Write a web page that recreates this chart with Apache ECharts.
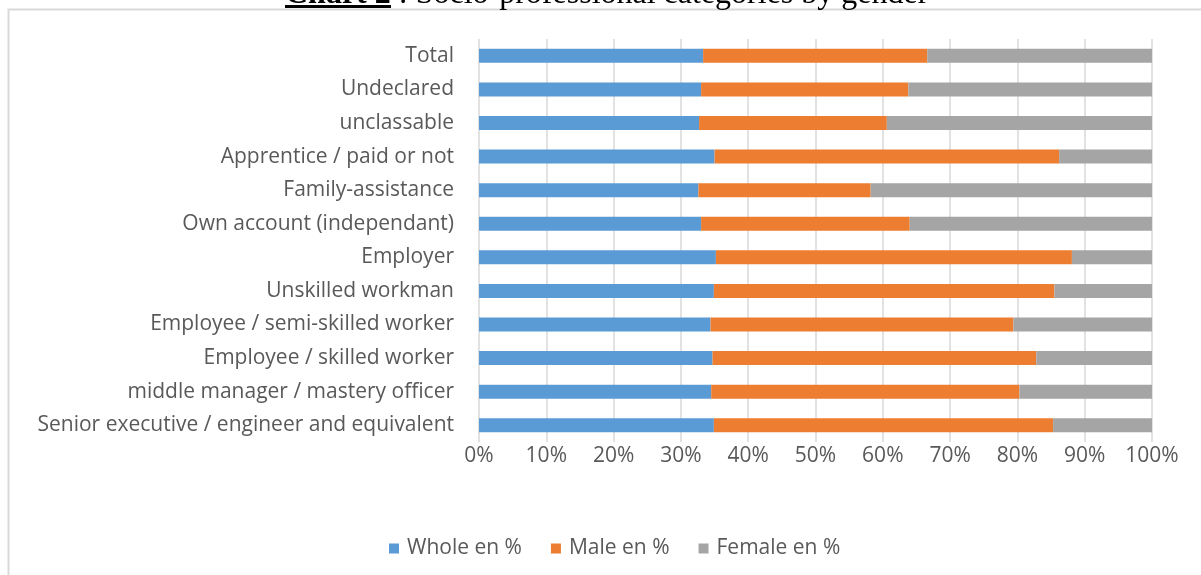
<!DOCTYPE html>
<html>
<head>
<meta charset="utf-8">
<script src="https://cdn.jsdelivr.net/npm/echarts@6/dist/echarts.min.js"></script>
<style>html,body{margin:0;padding:0;background:#fff;}#c{width:1201px;height:575px;}</style>
</head>
<body>
<div id="c"></div>
<script>
const categories = ["Total","Undeclared","unclassable","Apprentice / paid or not","Family-assistance","Own account (independant)","Employer","Unskilled workman","Employee / semi-skilled worker","Employee / skilled worker","middle manager / mastery officer","Senior executive / engineer and equivalent"];
const wholePct  = [33.3, 33.0, 32.7, 35.0, 32.6, 33.0, 35.2, 34.9, 34.4, 34.7, 34.5, 34.9];
const malePct   = [33.3, 30.8, 27.9, 51.2, 25.6, 31.0, 52.9, 50.6, 45.0, 48.1, 45.8, 50.4];
const femalePct = [33.4, 36.2, 39.4, 13.8, 41.8, 36.0, 11.9, 14.5, 20.6, 17.2, 19.7, 14.7];
const xTicks = [0,10,20,30,40,50,60,70,80,90,100];
const seriesNames = ["Whole en %","Male en %","Female en %"];

const chart = echarts.init(document.getElementById('c'), null, {renderer:'canvas'});
const font = '"Open Sans", sans-serif';
const lbl = '#595959';
const fs = 21;
const colors = ['#5b9bd5','#ed7d31','#a5a5a5'];
const vals = [wholePct, malePct, femalePct];
chart.setOption({
  animation:false,
  backgroundColor:'#fff',
  graphic:[
    {type:'rect', z:-10, shape:{x:8.5,y:9.5,width:1300,height:700}, style:{fill:'none',stroke:'#d9d9d9',lineWidth:2}},
    {type:'text', left:285, top:-21, style:{text:'{b|Chart 2} : Socio-professional categories by gender', font:'32px "Liberation Serif", serif', fill:'#000',
      rich:{b:{fontFamily:'"Liberation Serif", serif', fontWeight:'bold', fontSize:32}}}},
    {type:'rect', shape:{x:285,y:5,width:106,height:3}, style:{fill:'#000'}}
  ],
  grid:{left:479, right:49, top:39, bottom:133, containLabel:false},
  legend:{bottom:11, left:384, itemWidth:10, itemHeight:10, itemGap:29, icon:'rect',
    textStyle:{color:lbl, fontFamily:font, fontSize:fs, padding:[0,0,0,3]}, data:seriesNames},
  xAxis:{type:'value', min:0, max:100, interval:10,
    axisLabel:{formatter:v=>v+'%', color:lbl, fontFamily:font, fontSize:fs, margin:4},
    axisLine:{show:false}, axisTick:{show:false},
    splitLine:{lineStyle:{color:'#d9d9d9', width:1.5}}},
  yAxis:{type:'category', inverse:true, data:categories,
    axisLabel:{color:lbl, fontFamily:font, fontSize:fs, margin:25},
    axisLine:{show:false}, axisTick:{show:false}},
  series: seriesNames.map((n,i)=>({name:n, type:'bar', stack:'s', barWidth:14, data:vals[i],
    itemStyle:{color:colors[i]}}))
});
</script>
</body>
</html>
